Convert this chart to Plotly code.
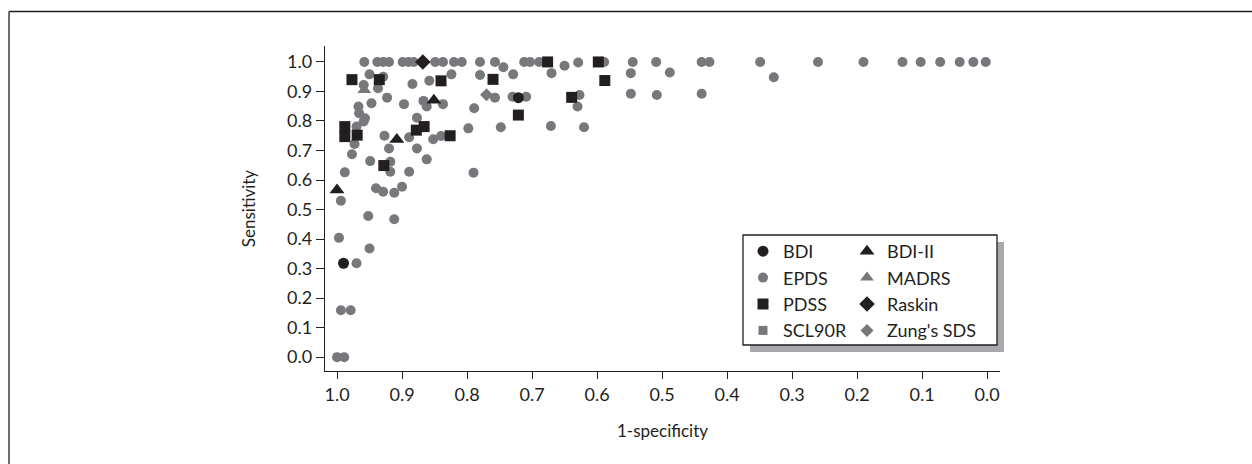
import plotly.graph_objects as go

# ---------------- data (1-specificity, sensitivity) ----------------
epds_x = [0.958, 0.938, 0.929, 0.920, 0.899, 0.890, 0.882, 0.849, 0.837, 0.820, 0.808, 0.780, 0.757,
          0.712, 0.703, 0.689, 0.589, 0.545, 0.509, 0.439, 0.427, 0.349, 0.260, 0.190, 0.130, 0.102,
          0.072, 0.042, 0.021, 0.002, 0.650, 0.629,
          0.950, 0.929, 0.959, 0.937, 0.923, 0.884, 0.858, 0.824, 0.780, 0.744, 0.729, 0.670, 0.548,
          0.488, 0.328,
          0.947, 0.967, 0.966, 0.957, 0.959, 0.897, 0.867, 0.862, 0.837, 0.789, 0.877, 0.757, 0.730,
          0.709, 0.627, 0.630, 0.548, 0.508, 0.439,
          0.970, 0.973, 0.977, 0.988, 0.927, 0.920, 0.889, 0.877, 0.852, 0.840, 0.798, 0.748, 0.671,
          0.620,
          0.949, 0.918, 0.918, 0.889, 0.862, 0.790,
          0.994, 0.940, 0.929, 0.912, 0.900, 0.952, 0.912, 0.997, 0.950, 0.970, 0.994, 0.979, 1.000,
          0.989]
epds_y = [1.0, 1.0, 1.0, 1.0, 1.0, 1.0, 1.0, 1.0, 1.0, 1.0, 1.0, 1.0, 1.0,
          1.0, 1.0, 1.0, 1.0, 1.0, 1.0, 1.0, 1.0, 1.0, 1.0, 1.0, 1.0, 1.0,
          1.0, 1.0, 1.0, 1.0, 0.987, 0.998,
          0.958, 0.950, 0.922, 0.911, 0.879, 0.925, 0.936, 0.958, 0.956, 0.982, 0.958, 0.962, 0.962,
          0.964, 0.948,
          0.860, 0.849, 0.826, 0.809, 0.798, 0.857, 0.868, 0.849, 0.857, 0.843, 0.811, 0.879, 0.882,
          0.882, 0.888, 0.849, 0.892, 0.888, 0.892,
          0.781, 0.722, 0.687, 0.626, 0.750, 0.707, 0.745, 0.707, 0.738, 0.749, 0.775, 0.779, 0.783,
          0.779,
          0.664, 0.662, 0.628, 0.628, 0.670, 0.625,
          0.530, 0.572, 0.560, 0.557, 0.577, 0.478, 0.467, 0.404, 0.368, 0.318, 0.159, 0.159, 0.0,
          0.0]

bdi_x = [0.990, 0.721]
bdi_y = [0.318, 0.879]

bdi2_x = [1.000, 0.908, 0.851]
bdi2_y = [0.566, 0.737, 0.870]

madrs_x = [0.958]
madrs_y = [0.905]

pdss_x = [0.977, 0.935, 0.840, 0.760, 0.676, 0.598, 0.588, 0.639, 0.721, 0.988, 0.988, 0.969,
          0.928, 0.878, 0.866, 0.826]
pdss_y = [0.940, 0.940, 0.936, 0.941, 1.000, 1.000, 0.937, 0.880, 0.820, 0.781, 0.747, 0.752,
          0.649, 0.769, 0.781, 0.750]

raskin_x = [0.868]
raskin_y = [1.0]

scl90r_x = [None]
scl90r_y = [None]

zung_x = [0.770]
zung_y = [0.889]

x_ticks = [1.0, 0.9, 0.8, 0.7, 0.6, 0.5, 0.4, 0.3, 0.2, 0.1, 0.0]
x_ticktext = ["1.0", "0.9", "0.8", "0.7", "0.6", "0.5", "0.4", "0.3", "0.2", "0.1", "0.0"]
y_ticks = [0.0, 0.1, 0.2, 0.3, 0.4, 0.5, 0.6, 0.7, 0.8, 0.9, 1.0]
y_ticktext = ["0.0", "0.1", "0.2", "0.3", "0.4", "0.5", "0.6", "0.7", "0.8", "0.9", "1.0"]

# ---------------- styling ----------------
GRAY = "#77787b"
BLACK = "#231f20"
FONT = "Lato"

W, H = 1252, 464
L, R, T, B = 325, 252, 46, 93
PW, PH = W - L - R, H - T - B


def px2paper(px, py):
    return (px - L) / PW, (H - B - py) / PH


fig = go.Figure()

series = [
    # name, x, y, symbol, color, size, legend, rank
    ("EPDS", epds_x, epds_y, "circle", GRAY, 10, "legend", 2),
    ("MADRS", madrs_x, madrs_y, "triangle-up", GRAY, 12, "legend2", 2),
    ("Zung's SDS", zung_x, zung_y, "diamond", GRAY, 10, "legend2", 4),
    ("SCL90R", scl90r_x, scl90r_y, "square", GRAY, 9, "legend", 4),
    ("BDI", bdi_x, bdi_y, "circle", BLACK, 11, "legend", 1),
    ("BDI-II", bdi2_x, bdi2_y, "triangle-up", BLACK, 13, "legend2", 1),
    ("PDSS", pdss_x, pdss_y, "square", BLACK, 11, "legend", 3),
    ("Raskin", raskin_x, raskin_y, "diamond", BLACK, 12, "legend2", 3),
]

for name, xs, ys, sym, col, size, leg, rank in series:
    fig.add_trace(go.Scatter(
        x=xs, y=ys, mode="markers", name=name,
        marker=dict(symbol=sym, color=col, size=size, line=dict(width=0)),
        legend=leg, legendrank=rank, legendgroup=name,
        hoverinfo="skip",
    ))

# outer frame (top & left edges visible)
fx0, fy_top = px2paper(9, 11.5)
fx_right, fy_bot = px2paper(1290, 500)
shapes = [
    dict(type="line", xref="paper", yref="paper", x0=fx0, x1=fx_right, y0=fy_top, y1=fy_top,
         line=dict(color=BLACK, width=1.3)),
    dict(type="line", xref="paper", yref="paper", x0=fx0, x1=fx0, y0=fy_top, y1=fy_bot,
         line=dict(color=BLACK, width=1.3)),
]

# legend box with drop shadow
bx0, by0 = px2paper(743, 345)
bx1, by1 = px2paper(997, 235)
sx0, sy0 = px2paper(750, 352)
sx1, sy1 = px2paper(1004, 242)
shapes.append(dict(type="rect", xref="paper", yref="paper", x0=sx0, x1=sx1, y0=sy0, y1=sy1,
                   fillcolor="#a7a9ac", line=dict(width=0), layer="above"))
shapes.append(dict(type="rect", xref="paper", yref="paper", x0=bx0, x1=bx1, y0=by0, y1=by1,
                   fillcolor="white", line=dict(color=BLACK, width=1.3), layer="above"))

lx1, ly = px2paper(743, 233)
lx2, _ = px2paper(847, 233)

leg_common = dict(xanchor="left", yanchor="top", bgcolor="rgba(0,0,0,0)", borderwidth=0,
                  font=dict(size=18, color=BLACK, family=FONT),
                  traceorder="grouped", tracegroupgap=0, itemclick=False)

fig.update_layout(
    width=W, height=H,
    margin=dict(l=L, r=R, t=T, b=B, pad=0),
    paper_bgcolor="white", plot_bgcolor="white",
    font=dict(family=FONT, color=BLACK, size=16),
    shapes=shapes,
    legend=dict(x=lx1, y=ly, **leg_common),
    legend2=dict(x=lx2, y=ly, **leg_common),
    xaxis=dict(
        range=[1.0185, -0.02], tickvals=x_ticks, ticktext=x_ticktext,
        showgrid=False, zeroline=False, showline=True, linecolor=BLACK, linewidth=1.3,
        ticks="outside", ticklen=7, tickwidth=1.3, tickcolor=BLACK,
        tickfont=dict(size=18, color=BLACK, family=FONT),
        title=dict(text="1-specificity", font=dict(size=17, color=BLACK, family=FONT), standoff=21),
    ),
    yaxis=dict(
        range=[-0.047, 1.054], tickvals=y_ticks, ticktext=y_ticktext,
        showgrid=False, zeroline=False, showline=True, linecolor=BLACK, linewidth=1.3,
        ticks="outside", ticklen=8, tickwidth=1.3, tickcolor=BLACK,
        tickfont=dict(size=18, color=BLACK, family=FONT),
        title=dict(text="Sensitivity", font=dict(size=17, color=BLACK, family=FONT), standoff=27),
    ),
)

fig.write_html("out.html")
